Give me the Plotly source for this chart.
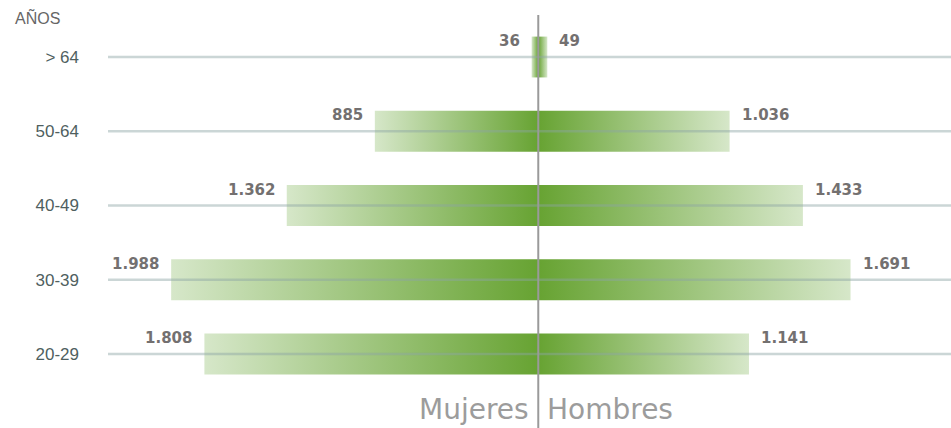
import plotly.graph_objects as go

# Datos de la pirámide (de abajo hacia arriba)
grupos = ['20-29', '30-39', '40-49', '50-64', '> 64']
mujeres = [1808, 1988, 1362, 885, 36]
hombres = [1141, 1691, 1433, 1036, 49]

VERDE = '#67a332'
VERDE_CLARO = '#d6e7c9'
ALTO = 0.275
X_MIN, X_MAX = -2330, 2235


def fmt(v):
    return f'{v:,}'.replace(',', '.')


fig = go.Figure()

for i, g in enumerate(grupos):
    for valor, escala in ((-mujeres[i], [[0, VERDE_CLARO], [1, VERDE]]),
                          (hombres[i], [[0, VERDE], [1, VERDE_CLARO]])):
        fig.add_trace(go.Scatter(
            x=[0, valor, valor, 0, 0],
            y=[i - ALTO, i - ALTO, i + ALTO, i + ALTO, i - ALTO],
            mode='lines',
            line=dict(width=0),
            fill='toself',
            fillgradient=dict(type='horizontal', colorscale=escala),
            hoverinfo='skip',
            showlegend=False
        ))

# Líneas horizontales por encima de las barras
for i, g in enumerate(grupos):
    fig.add_shape(type='line', xref='paper', x0=0, x1=1, yref='y', y0=i, y1=i,
                  line=dict(color='rgba(140,165,165,0.45)', width=2.5), layer='above')

# Línea central
fig.add_shape(type='line', xref='x', x0=0, x1=0, yref='paper', y0=0, y1=1,
              line=dict(color='#9a9a9a', width=2), layer='above')

# Etiquetas de valores
fuente_valor = dict(size=15, color='#737070', family='DejaVu Sans', weight='bold')
for i, g in enumerate(grupos):
    fig.add_annotation(x=-mujeres[i], y=i, text=fmt(mujeres[i]), showarrow=False,
                       xanchor='right', xshift=-10, yshift=16, font=fuente_valor)
    fig.add_annotation(x=hombres[i], y=i, text=fmt(hombres[i]), showarrow=False,
                       xanchor='left', xshift=10, yshift=16, font=fuente_valor)

fuente_sexo = dict(size=28, color='#9c9c9c', family='DejaVu Sans ExtraLight, DejaVu Sans')
fig.add_annotation(x=0, xref='x', y=0.045, yref='paper', text='Mujeres', showarrow=False,
                   xanchor='right', xshift=-7, yanchor='middle', font=fuente_sexo)
fig.add_annotation(x=0, xref='x', y=0.045, yref='paper', text='Hombres', showarrow=False,
                   xanchor='left', xshift=7, yanchor='middle', font=fuente_sexo)
fig.add_annotation(x=-0.113, xref='paper', y=0.995, yref='paper', text='AÑOS', showarrow=False,
                   xanchor='left', yanchor='middle',
                   font=dict(size=16, color='#666666', family='Liberation Sans'))

fig.update_layout(
    width=951, height=428,
    margin=dict(l=108, r=0, t=15, b=0),
    plot_bgcolor='white', paper_bgcolor='white',
    showlegend=False
)

fig.update_xaxes(range=[X_MIN, X_MAX], showgrid=False, zeroline=False,
                 showticklabels=False, fixedrange=True)

fig.update_yaxes(range=[-0.997, 4.566], tickvals=list(range(len(grupos))), ticktext=grupos,
                 showgrid=False, zeroline=False, ticks='', ticklabelstandoff=28,
                 tickfont=dict(size=17, color='#4f5f5f', family='Liberation Sans'),
                 fixedrange=True)

fig.write_html('out.html', config={'displayModeBar': False},
               post_script="document.body.style.margin='0';")
